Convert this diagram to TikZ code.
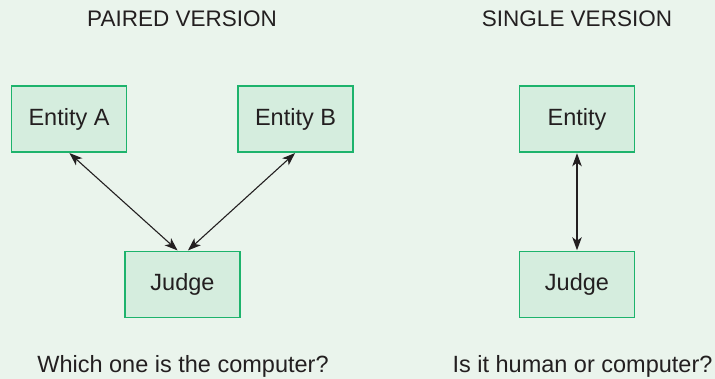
\documentclass[tikz,border=0pt]{standalone}
\usepackage{fontspec}
\setmainfont{Liberation Sans}
\usetikzlibrary{arrows.meta}
\definecolor{bgc}{HTML}{EAF4EC}
\definecolor{boxfill}{HTML}{D5EDDE}
\definecolor{boxline}{HTML}{1DB36C}
\definecolor{txt}{HTML}{231F20}
\tikzset{
  ebox/.style={draw=boxline, fill=boxfill, line width=1.3pt, minimum width=115pt, minimum height=66pt, inner sep=0pt, text=txt, font=\fontsize{23.5}{28}\selectfont},
  title/.style={text=txt, font=\fontsize{22.5}{27}\selectfont, inner sep=0pt},
  caption/.style={text=txt, font=\fontsize{23.5}{28}\selectfont, inner sep=0pt},
  conn/.style={draw=txt, line width=1.1pt, {Stealth[length=13pt,width=9.5pt,inset=3.5pt]}-{Stealth[length=13pt,width=9.5pt,inset=3.5pt]}, shorten <=0.6pt, shorten >=0.6pt}
}
\begin{document}
\begin{tikzpicture}[x=1pt,y=-1pt]
\fill[bgc] (0,0) rectangle (715,379);
\useasboundingbox (0,0) rectangle (715,379);
\node[title] (t1) at (182,19) {PAIRED VERSION};
\node[title] (t2) at (577,19) {SINGLE VERSION};
\node[ebox] (A) at (69,119) {Entity A};
\node[ebox] (B) at (295.5,119) {Entity B};
\node[ebox] (J1) at (182.5,284.5) {Judge};
\node[ebox] (E) at (577,119) {Entity};
\node[ebox] (J2) at (577,284.5) {Judge};
\node[caption] (c1) at (183,366) {Which one is the computer?};
\node[caption] (c2) at (582.5,366) {Is it human or computer?};
\draw[conn] (A.south) -- ([xshift=-4.5pt]J1.north);
\draw[conn] (B.south) -- ([xshift=5pt]J1.north);
\draw[conn] (E.south) -- (J2.north);
\end{tikzpicture}
\end{document}
